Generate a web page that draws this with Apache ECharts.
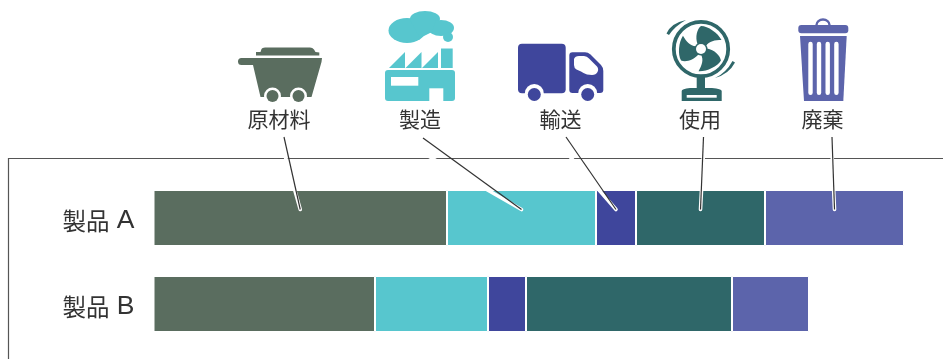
<!DOCTYPE html>
<html lang="ja">
<head>
<meta charset="utf-8">
<title>製品別ライフサイクル</title>
<style>html,body{margin:0;padding:0;background:#fff}#chart{width:943px;height:359px}</style>
<script src="https://cdn.jsdelivr.net/npm/echarts@6/dist/echarts.min.js"></script>
</head>
<body>
<div id="chart"></div>
<script>
// Stage names, products and their stacked amounts
const stages = ['原材料', '製造', '輸送', '使用', '廃棄'];
const products = ['製品 A', '製品 B'];
const rawMaterial = [293.5, 221.5];
const manufacturing = [149, 113];
const transport = [40, 38];
const usage = [129, 206];
const disposal = [139, 77];
const stageValues = [rawMaterial, manufacturing, transport, usage, disposal];
const colors = ['#5A6D5F', '#57C6CE', '#3F469C', '#2F6769', '#5C64AB'];

// Header layout: label centre and the free end of each leader line
const labelCenters = [279, 420, 560.5, 700, 822.5];
const leaderTops = [[284, 137], [423, 138], [566, 137], [703.5, 137], [832, 137]];

const textColor = '#333333';
const font = '"Noto Sans CJK JP", "Noto Sans", sans-serif';

const pathEl = (pathData, fill) => ({ type: 'path', shape: { pathData }, style: { fill } });
const circleEl = (cx, cy, r, fill) => ({ type: 'circle', shape: { cx, cy, r }, style: { fill } });
const ellipseEl = (cx, cy, rx, ry, fill) => ({
  type: 'path',
  shape: { pathData: `M${cx - rx},${cy}A${rx},${ry} 0 1 1 ${cx + rx},${cy}A${rx},${ry} 0 1 1 ${cx - rx},${cy}Z` },
  style: { fill }
});
const rectEl = (x, y, width, height, fill, r) => ({
  type: 'rect', shape: { x, y, width, height, r: r || 0 }, style: { fill }
});

function cartIcon(c) {
  return [
    pathEl('M256,55.5L256,52L260.5,52L261.5,49Q262,47.5 265,47.5L310,47.5Q312.5,47.5 314,49.5L315.5,52L319.3,52.5L319.3,55.5Z', c),
    pathEl('M241.5,58L322,58L321.5,62L311.5,97L260.5,97L253,65L241.5,65A3.5,3.5 0 0 1 241.5,58Z', c),
    circleEl(272.5, 96, 8.5, '#fff'), circleEl(298.5, 96, 8.5, '#fff'),
    rectEl(255, 97.5, 50, 6, '#fff'),
    circleEl(272.5, 96, 6, c), circleEl(298.5, 96, 6, c)
  ];
}

function factoryIcon(c) {
  return [
    ellipseEl(407, 30.5, 18.5, 12.5, c), ellipseEl(425, 19, 15, 8, c), ellipseEl(441, 28, 13, 8, c),
    pathEl('M410,20L436,20L432,32L420,38Z', c),
    circleEl(448, 37, 5, c),
    pathEl('M389,68L405,52L405,68Z', c), pathEl('M405.5,68L421.5,52L421.5,68Z', c), pathEl('M422,68L438,52L438,68Z', c),
    rectEl(441, 48.5, 11.7, 19.5, c),
    rectEl(385, 70, 70, 31, c, 3),
    rectEl(391, 77, 27.3, 8.7, '#fff'),
    rectEl(429.3, 88.3, 14, 12.7, '#fff')
  ];
}

function truckIcon(c) {
  return [
    rectEl(518, 43.7, 47.7, 49.6, c, 4),
    pathEl('M572.5,52.3L585,52.3Q588,52.3 590.5,54.5L601,65Q603.3,67.5 603.3,71L603.3,90Q603.3,93 600,93L572.5,93Q569.3,93 569.3,90L569.3,55.5Q569.3,52.3 572.5,52.3Z', c),
    pathEl('M574,59Q575,56 579,56L584,56Q587,56 589,58.5L597,66.5Q599,69 597.5,72Q596,75 592,75L587,74.5Q583,73 581,71.5L576.5,69.5Q574,68 574,65Z', '#fff'),
    circleEl(534.3, 93.5, 9.5, '#fff'), circleEl(587.7, 93.5, 9.5, '#fff'),
    circleEl(534.3, 94.5, 6.5, c), circleEl(587.7, 94.5, 6.5, c)
  ];
}

function fanIcon(c) {
  const blade = 'M-3.5,-5C-6,-12 -4,-20 0,-23C7,-23 17,-16 20.5,-9C14,-9 8,-8 5,-3Z';
  const rotated = [0, -2 * Math.PI / 3, 2 * Math.PI / 3].map((rotation) => ({
    type: 'path', x: 701, y: 49, rotation, shape: { pathData: blade }, style: { fill: c }
  }));
  return [
    pathEl('M696.7,70L705,70L705,88L712,88Q721.7,89 721.7,91L721.7,101L681.7,101L681.7,91Q681.7,89 690,88L696.7,88Z', c),
    rectEl(686.7, 95, 30, 2.7, '#fff'),
    { type: 'circle', shape: { cx: 701, cy: 49, r: 27.2 }, style: { fill: '#fff', stroke: c, lineWidth: 3.8 } },
    ...rotated,
    circleEl(701, 49, 6.5, c), circleEl(701, 49, 5, '#fff'),
    pathEl('M666.5,33.5Q671,23 686,20Q675,26 669,35Z', c),
    pathEl('M735,62.5Q729,74 715,78Q726,73 732.5,61Z', c)
  ];
}

function binIcon(c) {
  const slots = [808.3, 816.8, 825.5, 834.2].map((x) => rectEl(x, 41.7, 4.4, 53.3, '#fff', 2.2));
  return [
    { type: 'path', shape: { pathData: 'M816.5,26L816.5,25A6.5,5.5 0 0 1 829.5,25L829.5,26' }, style: { fill: 'none', stroke: c, lineWidth: 2.4 } },
    rectEl(798.3, 25, 50, 8.3, c, 3),
    pathEl('M800,36L846.7,36L843.3,101L804,101Z', c),
    ...slots
  ];
}

const iconBuilders = [cartIcon, factoryIcon, truckIcon, fanIcon, binIcon];

// Stacked horizontal bars, one series per life-cycle stage
const barSeries = stages.map((name, i) => ({
  name,
  type: 'bar',
  stack: 'total',
  barWidth: 56,
  data: stageValues[i],
  itemStyle: { color: colors[i], borderColor: '#ffffff', borderWidth: 1 },
  silent: true
}));

// Icon row above the labels
const iconSeries = {
  type: 'custom',
  coordinateSystem: 'none',
  silent: true,
  z: 5,
  data: [0],
  renderItem: () => ({
    type: 'group',
    children: iconBuilders.flatMap((build, i) => build(colors[i]))
  })
};

// Leader lines run from each label down to the middle of its segment in the first bar
const leaderSeries = {
  type: 'custom',
  coordinateSystem: 'cartesian2d',
  silent: true,
  clip: false,
  z: 6,
  data: [[0, 0]],
  renderItem: (params, api) => {
    const children = [];
    let start = 0;
    stages.forEach((_, i) => {
      const value = stageValues[i][0];
      const end = api.coord([start + value / 2, 0]);
      start += value;
      const [x1, y1] = leaderTops[i];
      const x2 = end[0];
      const y2 = end[1] - 8.5;
      children.push({
        type: 'line',
        shape: { x1, y1: y1 + 15, x2, y2 },
        style: { stroke: '#ffffff', lineWidth: 3.6, lineCap: 'round' }
      });
      children.push({
        type: 'line',
        shape: { x1, y1, x2, y2 },
        style: { stroke: '#333333', lineWidth: 1.2 }
      });
    });
    return { type: 'group', children };
  }
};

const chart = echarts.init(document.getElementById('chart'), null, { renderer: 'canvas' });
chart.setOption({
  animation: false,
  backgroundColor: '#ffffff',
  grid: { left: 153.5, top: 175, width: 789.5, height: 172 },
  xAxis: { type: 'value', min: 0, max: 789.5, show: false },
  yAxis: {
    type: 'category',
    inverse: true,
    data: products,
    axisLine: { show: false },
    axisTick: { show: false },
    axisLabel: {
      align: 'left',
      margin: 91,
      padding: [6, 0, 0, 0],
      color: textColor,
      fontFamily: font,
      fontSize: 23.5,
      // Latin letters are set larger than the kanji beside them
      formatter: (value) => {
        const [word, letter] = value.split(' ');
        return `{kanji|${word} }{latin|${letter}}`;
      },
      rich: {
        kanji: { fontSize: 23.5, fontFamily: font, color: textColor, padding: [0, 2, 0, 0] },
        latin: { fontSize: 26.5, fontFamily: '"Liberation Sans", sans-serif', color: textColor }
      }
    }
  },
  graphic: [
    {
      type: 'polyline',
      silent: true,
      shape: { points: [[8.5, 359], [8.5, 158.5], [943, 158.5]] },
      style: { fill: 'none', stroke: '#555555', lineWidth: 1.2 }
    },
    ...stages.map((text, i) => ({
      type: 'text',
      silent: true,
      x: labelCenters[i],
      y: 119.5,
      style: {
        text,
        fill: textColor,
        font: `21px ${font}`,
        textAlign: 'center',
        textVerticalAlign: 'middle'
      }
    }))
  ],
  series: [...barSeries, iconSeries, leaderSeries]
});
</script>
</body>
</html>
